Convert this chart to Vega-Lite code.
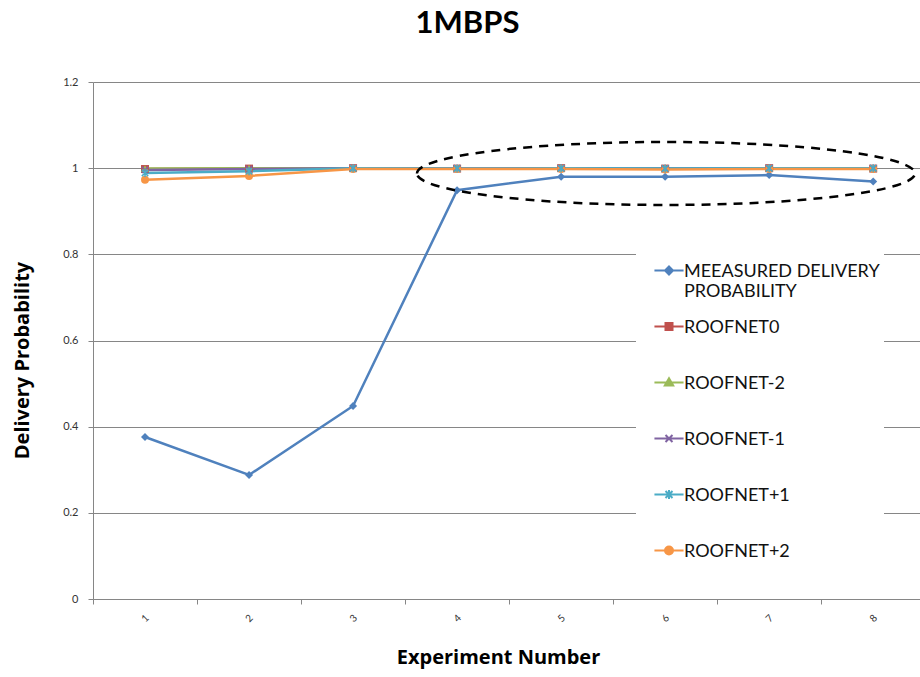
{
  "$schema": "https://vega.github.io/schema/vega-lite/v6.json",
  "width": 827,
  "height": 517,
  "autosize": "none",
  "padding": {"left": 93, "top": 82, "right": 0, "bottom": 78},
  "background": "white",
  "title": {
    "text": "1MBPS",
    "font": "Lato",
    "fontSize": 31,
    "fontWeight": "bold",
    "color": "#000000",
    "anchor": "middle",
    "dx": -39,
    "offset": 36
  },
  "config": {
    "view": {"stroke": null},
    "axis": {
      "labelFont": "Lato",
      "titleFont": "Open Sans",
      "domainColor": "#868686",
      "tickColor": "#868686",
      "labelColor": "#333333",
      "titleColor": "#000000"
    }
  },
  "resolve": {
    "scale": {"shape": "independent", "color": "independent", "stroke": "independent"},
    "legend": {"shape": "independent", "color": "independent", "stroke": "independent"}
  },
  "datasets": {
    "delivery": [
      {"exp": 1, "series": "MEEASURED DELIVERY PROBABILITY", "p": 0.376},
      {"exp": 2, "series": "MEEASURED DELIVERY PROBABILITY", "p": 0.288},
      {"exp": 3, "series": "MEEASURED DELIVERY PROBABILITY", "p": 0.448},
      {"exp": 4, "series": "MEEASURED DELIVERY PROBABILITY", "p": 0.949},
      {"exp": 5, "series": "MEEASURED DELIVERY PROBABILITY", "p": 0.980},
      {"exp": 6, "series": "MEEASURED DELIVERY PROBABILITY", "p": 0.980},
      {"exp": 7, "series": "MEEASURED DELIVERY PROBABILITY", "p": 0.984},
      {"exp": 8, "series": "MEEASURED DELIVERY PROBABILITY", "p": 0.969},
      {"exp": 1, "series": "ROOFNET0", "p": 0.998},
      {"exp": 2, "series": "ROOFNET0", "p": 0.999},
      {"exp": 3, "series": "ROOFNET0", "p": 1.0},
      {"exp": 4, "series": "ROOFNET0", "p": 0.999},
      {"exp": 5, "series": "ROOFNET0", "p": 1.0},
      {"exp": 6, "series": "ROOFNET0", "p": 0.999},
      {"exp": 7, "series": "ROOFNET0", "p": 1.0},
      {"exp": 8, "series": "ROOFNET0", "p": 0.999},
      {"exp": 1, "series": "ROOFNET-2", "p": 0.999},
      {"exp": 2, "series": "ROOFNET-2", "p": 1.0},
      {"exp": 3, "series": "ROOFNET-2", "p": 1.0},
      {"exp": 4, "series": "ROOFNET-2", "p": 1.0},
      {"exp": 5, "series": "ROOFNET-2", "p": 1.0},
      {"exp": 6, "series": "ROOFNET-2", "p": 1.0},
      {"exp": 7, "series": "ROOFNET-2", "p": 1.0},
      {"exp": 8, "series": "ROOFNET-2", "p": 1.0},
      {"exp": 1, "series": "ROOFNET-1", "p": 0.996},
      {"exp": 2, "series": "ROOFNET-1", "p": 0.998},
      {"exp": 3, "series": "ROOFNET-1", "p": 1.0},
      {"exp": 4, "series": "ROOFNET-1", "p": 1.0},
      {"exp": 5, "series": "ROOFNET-1", "p": 1.0},
      {"exp": 6, "series": "ROOFNET-1", "p": 0.999},
      {"exp": 7, "series": "ROOFNET-1", "p": 1.0},
      {"exp": 8, "series": "ROOFNET-1", "p": 1.0},
      {"exp": 1, "series": "ROOFNET+1", "p": 0.989},
      {"exp": 2, "series": "ROOFNET+1", "p": 0.993},
      {"exp": 3, "series": "ROOFNET+1", "p": 1.0},
      {"exp": 4, "series": "ROOFNET+1", "p": 0.999},
      {"exp": 5, "series": "ROOFNET+1", "p": 1.0},
      {"exp": 6, "series": "ROOFNET+1", "p": 0.999},
      {"exp": 7, "series": "ROOFNET+1", "p": 1.0},
      {"exp": 8, "series": "ROOFNET+1", "p": 1.0},
      {"exp": 1, "series": "ROOFNET+2", "p": 0.973},
      {"exp": 2, "series": "ROOFNET+2", "p": 0.982},
      {"exp": 3, "series": "ROOFNET+2", "p": 0.998},
      {"exp": 4, "series": "ROOFNET+2", "p": 0.998},
      {"exp": 5, "series": "ROOFNET+2", "p": 0.998},
      {"exp": 6, "series": "ROOFNET+2", "p": 0.997},
      {"exp": 7, "series": "ROOFNET+2", "p": 0.998},
      {"exp": 8, "series": "ROOFNET+2", "p": 0.998}
    ],
    "highlight": [
      {"exp": 6.008, "p": 0.9877}
    ]
  },
  "data": {"name": "delivery"},
  "encoding": {
    "x": {
      "field": "exp",
      "type": "quantitative",
      "scale": {"domain": [0.5, 8.45], "nice": false, "zero": false},
      "axis": {
        "title": "Experiment Number",
        "titleFontSize": 20,
        "titleFontWeight": "bold",
        "titlePadding": 24,
        "titleX": 405,
        "values": [0.5, 1, 1.5, 2, 2.5, 3, 3.5, 4, 4.5, 5, 5.5, 6, 6.5, 7, 7.5, 8],
        "format": "~g",
        "labelExpr": "datum.value % 1 === 0 ? datum.label : ''",
        "tickOpacity": {"condition": {"test": "datum.value % 1 === 0", "value": 0}, "value": 1},
        "tickSize": 5,
        "labelAngle": -45,
        "labelAlign": "center",
        "labelBaseline": "middle",
        "labelPadding": 14,
        "labelFontSize": 10,
        "labelOverlap": false,
        "grid": false
      }
    },
    "y": {
      "field": "p",
      "type": "quantitative",
      "scale": {"domain": [0, 1.2], "nice": false},
      "axis": {
        "title": "Delivery Probability",
        "titleFontSize": 20,
        "titleFontWeight": "bold",
        "titlePadding": 30,
        "titleY": 278,
        "values": [0, 0.2, 0.4, 0.6, 0.8, 1, 1.2],
        "format": "~g",
        "labelFontSize": 11,
        "labelPadding": 10,
        "tickSize": 5,
        "grid": true,
        "gridColor": "#868686",
        "gridWidth": 1
      }
    }
  },
  "layer": [
    {
      "mark": {"type": "line", "strokeWidth": 2.5},
      "encoding": {
        "color": {
          "field": "series",
          "type": "nominal",
          "legend": null,
          "scale": {
            "domain": ["MEEASURED DELIVERY PROBABILITY", "ROOFNET0", "ROOFNET-2", "ROOFNET-1", "ROOFNET+1", "ROOFNET+2"],
            "range": ["#4F81BD", "#C0504D", "#9BBB59", "#8064A2", "#4BACC6", "#F79646"]
          }
        }
      }
    },
    {
      "transform": [{"filter": "datum.series !== 'ROOFNET-1' && datum.series !== 'ROOFNET+1'"}],
      "mark": {"type": "point", "filled": true, "opacity": 1, "size": 64},
      "encoding": {
        "color": {
          "field": "series",
          "type": "nominal",
          "legend": null,
          "scale": {
            "domain": ["MEEASURED DELIVERY PROBABILITY", "ROOFNET0", "ROOFNET-2", "ROOFNET-1", "ROOFNET+1", "ROOFNET+2"],
            "range": ["#4F81BD", "#C0504D", "#9BBB59", "#8064A2", "#4BACC6", "#F79646"]
          }
        },
        "shape": {
          "field": "series",
          "type": "nominal",
          "legend": null,
          "scale": {
            "domain": ["MEEASURED DELIVERY PROBABILITY", "ROOFNET0", "ROOFNET-2", "ROOFNET-1", "ROOFNET+1", "ROOFNET+2"],
            "range": ["diamond", "square", "triangle-up", "M-0.8,-0.8L0.8,0.8M-0.8,0.8L0.8,-0.8", "M-0.8,-0.8L0.8,0.8M-0.8,0.8L0.8,-0.8M0,-1V1", "circle"]
          }
        }
      }
    },
    {
      "transform": [{"filter": "datum.series === 'ROOFNET-1' || datum.series === 'ROOFNET+1'"}],
      "mark": {"type": "point", "filled": false, "opacity": 1, "size": 64, "strokeWidth": 1.5},
      "encoding": {
        "color": {
          "field": "series",
          "type": "nominal",
          "legend": null,
          "scale": {
            "domain": ["MEEASURED DELIVERY PROBABILITY", "ROOFNET0", "ROOFNET-2", "ROOFNET-1", "ROOFNET+1", "ROOFNET+2"],
            "range": ["#4F81BD", "#C0504D", "#9BBB59", "#8064A2", "#4BACC6", "#F79646"]
          }
        },
        "shape": {
          "field": "series",
          "type": "nominal",
          "legend": null,
          "scale": {
            "domain": ["MEEASURED DELIVERY PROBABILITY", "ROOFNET0", "ROOFNET-2", "ROOFNET-1", "ROOFNET+1", "ROOFNET+2"],
            "range": ["diamond", "square", "triangle-up", "M-0.8,-0.8L0.8,0.8M-0.8,0.8L0.8,-0.8", "M-0.8,-0.8L0.8,0.8M-0.8,0.8L0.8,-0.8M0,-1V1", "circle"]
          }
        }
      }
    },
    {
      "transform": [{"filter": "false"}],
      "mark": {"type": "point", "filled": true, "opacity": 1, "size": 3136, "strokeWidth": 2},
      "encoding": {
        "color": {
          "field": "series",
          "type": "nominal",
          "scale": {
            "domain": ["MEEASURED DELIVERY PROBABILITY", "ROOFNET0", "ROOFNET-2", "ROOFNET-1", "ROOFNET+1", "ROOFNET+2"],
            "range": ["#4F81BD", "#C0504D", "#9BBB59", "#8064A2", "#4BACC6", "#F79646"]
          },
          "legend": {
            "title": null,
            "orient": "none",
            "legendX": 543,
            "legendY": 162,
            "padding": 4,
            "fillColor": "white",
            "symbolSize": 3136,
            "symbolOffset": 0,
            "symbolStrokeWidth": 2,
            "labelFont": "Lato",
            "labelFontSize": 18,
            "labelColor": "#111111",
            "labelOffset": -14,
            "labelLimit": 400,
            "labelBaseline": "alphabetic",
            "rowPadding": 0,
            "labelExpr": "datum.label === 'MEEASURED DELIVERY PROBABILITY' ? ['MEEASURED DELIVERY', 'PROBABILITY'] : datum.label"
          }
        },
        "stroke": {
          "field": "series",
          "type": "nominal",
          "scale": {
            "domain": ["MEEASURED DELIVERY PROBABILITY", "ROOFNET0", "ROOFNET-2", "ROOFNET-1", "ROOFNET+1", "ROOFNET+2"],
            "range": ["#4F81BD", "#C0504D", "#9BBB59", "#8064A2", "#4BACC6", "#F79646"]
          },
          "legend": {
            "title": null,
            "orient": "none",
            "legendX": 543,
            "legendY": 162,
            "padding": 4,
            "fillColor": "white",
            "symbolSize": 3136,
            "symbolOffset": 0,
            "symbolStrokeWidth": 2,
            "labelFont": "Lato",
            "labelFontSize": 18,
            "labelColor": "#111111",
            "labelOffset": -14,
            "labelLimit": 400,
            "labelBaseline": "alphabetic",
            "rowPadding": 0,
            "labelExpr": "datum.label === 'MEEASURED DELIVERY PROBABILITY' ? ['MEEASURED DELIVERY', 'PROBABILITY'] : datum.label"
          }
        },
        "shape": {
          "field": "series",
          "type": "nominal",
          "scale": {
            "domain": ["MEEASURED DELIVERY PROBABILITY", "ROOFNET0", "ROOFNET-2", "ROOFNET-1", "ROOFNET+1", "ROOFNET+2"],
            "range": [
              "M-0.52,-0.232H0.52M0,-0.375L0.143,-0.232L0,-0.089L-0.143,-0.232ZM0,0.821L0.0001,0.821",
              "M-0.52,-0.232H0.52M-0.125,-0.357H0.125V-0.107H-0.125ZM0,0.821L0.0001,0.821",
              "M-0.52,-0.232H0.52M0,-0.382L0.15,-0.122H-0.15ZM0,0.821L0.0001,0.821",
              "M-0.52,-0.232H0.52M-0.125,-0.357L0.125,-0.107M-0.125,-0.107L0.125,-0.357M0,0.821L0.0001,0.821",
              "M-0.52,-0.232H0.52M-0.125,-0.357L0.125,-0.107M-0.125,-0.107L0.125,-0.357M0,-0.39V-0.074M0,0.821L0.0001,0.821",
              "M-0.52,-0.232H0.52M-0.143,-0.232C-0.143,-0.311,-0.079,-0.375,0,-0.375C0.079,-0.375,0.143,-0.311,0.143,-0.232C0.143,-0.153,0.079,-0.089,0,-0.089C-0.079,-0.089,-0.143,-0.153,-0.143,-0.232ZM0,0.821L0.0001,0.821"
            ]
          },
          "legend": {
            "title": null,
            "orient": "none",
            "legendX": 543,
            "legendY": 162,
            "padding": 4,
            "fillColor": "white",
            "symbolSize": 3136,
            "symbolOffset": 0,
            "symbolStrokeWidth": 2,
            "labelFont": "Lato",
            "labelFontSize": 18,
            "labelColor": "#111111",
            "labelOffset": -14,
            "labelLimit": 400,
            "labelBaseline": "alphabetic",
            "rowPadding": 0,
            "labelExpr": "datum.label === 'MEEASURED DELIVERY PROBABILITY' ? ['MEEASURED DELIVERY', 'PROBABILITY'] : datum.label"
          }
        }
      }
    },
    {
      "data": {"name": "highlight"},
      "mark": {
        "type": "point",
        "filled": false,
        "shape": "M-1,0C-1,-0.0699,-0.5523,-0.1265,0,-0.1265C0.5523,-0.1265,1,-0.0699,1,0C1,0.0699,0.5523,0.1265,0,0.1265C-0.5523,0.1265,-1,0.0699,-1,0Z",
        "size": 248004,
        "stroke": "#000000",
        "strokeWidth": 2.5,
        "strokeDash": [9, 7],
        "opacity": 1
      },
      "encoding": {
        "x": {"field": "exp", "type": "quantitative"},
        "y": {"field": "p", "type": "quantitative"}
      }
    }
  ]
}
